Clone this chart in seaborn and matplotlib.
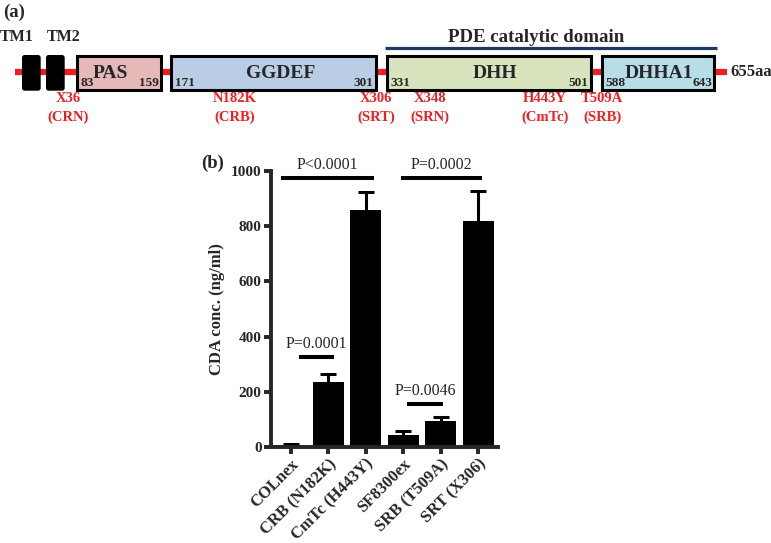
import numpy as np
import pandas as pd
import matplotlib
matplotlib.use("Agg")
import matplotlib.pyplot as plt
from matplotlib.patches import Rectangle, FancyBboxPatch
import seaborn as sns

# ---- panel (a): domain map ----
domains = ["PAS", "GGDEF", "DHH", "DHHA1"]
dom_start = ["83", "171", "331", "588"]
dom_end = ["159", "301", "501", "643"]
dom_colors = ["#e6b9b8", "#b9cde5", "#d7e4bd", "#b7dee8"]
# schematic layout of the map (pixels, not to scale)
dom_left = [76.7, 170.7, 386.7, 601.7]
dom_right = [160.7, 375.7, 590.7, 714.3]
dom_label_x = [110, 281, 495, 659]
tm_names = ["TM1", "TM2"]
tm_left = [22.7, 46.7]
tm_label_x = [16.5, 63.5]
mutations = ["X36", "N182K", "X306", "X348", "H443Y", "T509A"]
mut_strains = ["(CRN)", "(CRB)", "(SRT)", "(SRN)", "(CmTc)", "(SRB)"]
mut_x = [68, 235, 376, 430, 545, 602]

# ---- panel (b): CDA production ----
strains = ["COLnex", "CRB (N182K)", "CmTc (H443Y)", "SF8300ex", "SRB (T509A)", "SRT (X306)"]
cda_mean = [8, 237, 858, 45, 95, 818]
cda_err = [4, 28, 65, 13, 12, 110]
p_text = ["P<0.0001", "P=0.0002", "P=0.0001", "P=0.0046"]
p_y = [975, 975, 325, 155]
p_x0 = [-0.25, 2.95, 0.21, 3.11]
p_x1 = [2.21, 5.11, 1.15, 4.06]

sns.set_style("ticks")
plt.rcParams['font.family'] = ['Liberation Serif', 'DejaVu Serif']

fig = plt.figure(figsize=(7.71, 5.43), dpi=100)

# map drawn in pixel coordinates
ax_a = fig.add_axes([0, 0, 1, 1])
ax_a.set_xlim(0, 771)
ax_a.set_ylim(543, 0)
ax_a.axis('off')

red = '#f01e23'
y_mid = 72.3
box_top, box_h = 55.7, 34.3
ax_a.plot([15, 726.7], [y_mid, y_mid], color=red, lw=4.5, solid_capstyle='butt', zorder=1)
ax_a.plot([385, 716.7], [47.7, 47.7], color='#1f3864', lw=2.3, solid_capstyle='butt')
ax_a.text(536, 37, "PDE catalytic domain", ha='center', va='center', fontsize=13.6, fontweight='bold')

for name, x, lx in zip(tm_names, tm_left, tm_label_x):
    ax_a.add_patch(FancyBboxPatch((x, box_top), 17.3, box_h, boxstyle="round,pad=0,rounding_size=2",
                                  fc='black', ec='black', lw=1, zorder=2))
    ax_a.text(lx, 37, name, ha='center', va='center', fontsize=11.5, fontweight='bold')

for name, s, e, c, l, r, lx in zip(domains, dom_start, dom_end, dom_colors, dom_left, dom_right, dom_label_x):
    ax_a.add_patch(Rectangle((l, box_top), r - l, box_h, fc=c, ec='black', lw=2.2, zorder=2))
    ax_a.text(lx, 73.5, name, ha='center', va='center', fontsize=14, fontweight='bold', zorder=3)
    ax_a.text(l + 4, 82.5, s, ha='left', va='center', fontsize=9.5, fontweight='bold', zorder=3)
    ax_a.text(r - 2, 82.5, e, ha='right', va='center', fontsize=9.5, fontweight='bold', zorder=3)

ax_a.text(730, 72, "655aa", ha='left', va='center', fontsize=12, fontweight='bold')
ax_a.text(3, 12, "(a)", ha='left', va='center', fontsize=13.4, fontweight='bold')
ax_a.text(201, 163, "(b)", ha='left', va='center', fontsize=13.4, fontweight='bold')

for m, st, x in zip(mutations, mut_strains, mut_x):
    ax_a.text(x, 99, m, ha='center', va='center', fontsize=10.5, fontweight='bold', color=red)
    ax_a.text(x, 117.5, st, ha='center', va='center', fontsize=10.5, fontweight='bold', color=red)

# bar chart
ax_b = fig.add_axes([0.351, 0.1768, 0.295, 0.508])
df = pd.DataFrame({"strain": strains, "cda": cda_mean})
sns.barplot(data=df, x="strain", y="cda", color="black", saturation=1, errorbar=None,
            width=0.82, ax=ax_b, zorder=2, edgecolor='black', linewidth=0)
# symmetric bars drawn behind the columns, so only the upper half shows
ax_b.errorbar(np.arange(len(strains)), cda_mean, yerr=cda_err,
              fmt='none', ecolor='black', elinewidth=2.2, capsize=6, capthick=2.2, zorder=1)

ax_b.set_xlim(-0.54, 5.53)
ax_b.set_ylim(0, 1000)
ax_b.set_yticks([0, 200, 400, 600, 800, 1000])
ax_b.set_xlabel("")
ax_b.set_ylabel("CDA conc. (ng/ml)", fontsize=12, fontweight='bold', labelpad=4)
sns.despine(ax=ax_b)
for sp in ['left', 'bottom']:
    ax_b.spines[sp].set_linewidth(2.8)
ax_b.tick_params(axis='both', width=2.8, length=5, pad=1.5)
ax_b.set_xticks(range(len(strains)))
ax_b.set_xticklabels(strains, rotation=45, ha='right', rotation_mode='anchor',
                     fontsize=12, fontweight='bold')
for t in ax_b.get_yticklabels():
    t.set_fontsize(11)
    t.set_fontweight('bold')

for txt, y, x0, x1 in zip(p_text, p_y, p_x0, p_x1):
    ax_b.plot([x0, x1], [y, y], color='black', lw=2.9, solid_capstyle='butt', clip_on=False)
    ax_b.text((x0 + x1) / 2, y + 20, txt, ha='center', va='bottom', fontsize=11.5)

fig.savefig("out.png", dpi=100)
